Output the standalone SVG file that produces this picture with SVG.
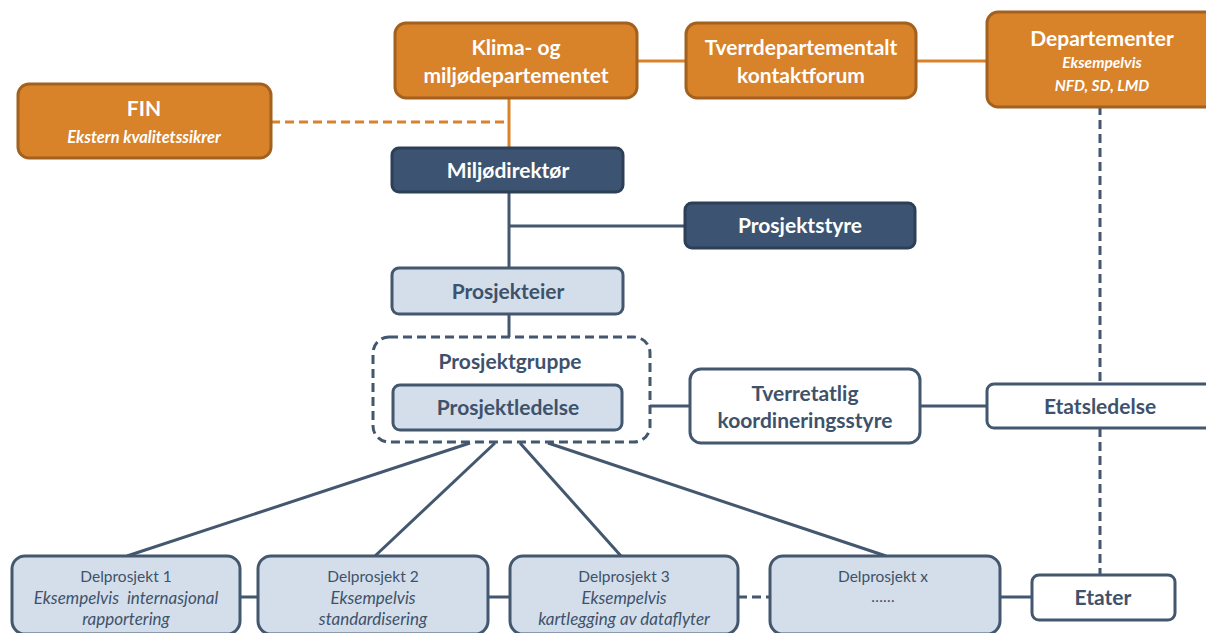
<svg xmlns="http://www.w3.org/2000/svg" width="1206" height="633" viewBox="0 0 1206 633">
  <style>
    text { font-family: Lato, "Open Sans", "Liberation Sans", sans-serif; text-anchor: middle; white-space: pre; }
    .org { fill: #D8822A; stroke: #A2611F; stroke-width: 3; }
    .navy { fill: #3C5471; stroke: #2C3F56; stroke-width: 3; }
    .light { fill: #D3DEEA; stroke: #43576E; stroke-width: 3; }
    .white { fill: #FFFFFF; stroke: #43576E; stroke-width: 3; }
    .tw { fill: #FFFFFF; font-weight: bold; font-size: 21px; }
    .twi { fill: #FFFFFF; font-style: italic; font-size: 16.5px; font-weight: bold; }
    .twis { fill: #FFFFFF; font-style: italic; font-size: 15.5px; font-weight: bold; }
    .tn { fill: #3E526B; font-weight: bold; font-size: 21px; }
    .ts { fill: #3E526B; font-size: 15.5px; }
    .tsi { fill: #3E526B; font-size: 17px; font-style: italic; }
    .lo { stroke: #D8822A; stroke-width: 3; fill: none; }
    .ln { stroke: #43576E; stroke-width: 3; fill: none; }
    .dash { stroke-dasharray: 9 5; }
  </style>
  <rect width="1206" height="633" fill="#FFFFFF"/>

  <!-- connectors -->
  <g id="connectors">
    <line class="lo" x1="637" y1="61" x2="686" y2="61"/>
    <line class="lo" x1="916" y1="61" x2="987" y2="61"/>
    <line class="lo" x1="509" y1="98" x2="509" y2="148"/>
    <line class="lo dash" x1="271" y1="122" x2="509" y2="122"/>
    <line class="ln" x1="509" y1="192" x2="509" y2="268"/>
    <line class="ln" x1="509" y1="226" x2="685" y2="226"/>
    <line class="ln" x1="509" y1="314" x2="509" y2="337"/>
    <line class="ln" x1="650" y1="406" x2="690" y2="406"/>
    <line class="ln" x1="920" y1="406" x2="987" y2="406"/>
    <line class="ln dash" x1="1100" y1="106" x2="1100" y2="384"/>
    <line class="ln dash" x1="1100" y1="428" x2="1100" y2="575"/>
    <line class="ln" x1="470" y1="443" x2="127" y2="556"/>
    <line class="ln" x1="495" y1="443" x2="375" y2="556"/>
    <line class="ln" x1="520" y1="443" x2="621" y2="556"/>
    <line class="ln" x1="548" y1="443" x2="886" y2="556"/>
    <line class="ln" x1="240" y1="597" x2="258" y2="597"/>
    <line class="ln" x1="488" y1="597" x2="510" y2="597"/>
    <line class="ln dash" x1="738" y1="597" x2="770" y2="597"/>
    <line class="ln" x1="1000" y1="597" x2="1032" y2="597"/>
  </g>

  <g id="klima">
    <rect class="org" x="395" y="23" width="242" height="75" rx="11"/>
    <text class="tw" x="516" y="55">Klima- og</text>
    <text class="tw" x="516" y="83">miljødepartementet</text>
  </g>
  <g id="tverrdep">
    <rect class="org" x="686" y="23" width="230" height="75" rx="11"/>
    <text class="tw" x="801" y="55">Tverrdepartementalt</text>
    <text class="tw" x="801" y="83">kontaktforum</text>
  </g>
  <g id="departementer">
    <rect class="org" x="987" y="12" width="230" height="95" rx="11"/>
    <text class="tw" x="1102" y="46">Departementer</text>
    <text class="twis" x="1102" y="68">Eksempelvis</text>
    <text class="twis" x="1102" y="91">NFD, SD, LMD</text>
  </g>
  <g id="fin">
    <rect class="org" x="18" y="84" width="253" height="74" rx="11"/>
    <text class="tw" x="144" y="116">FIN</text>
    <text class="twi" x="144" y="143">Ekstern kvalitetssikrer</text>
  </g>
  <g id="miljodirektor">
    <rect class="navy" x="392" y="148" width="231" height="44" rx="7"/>
    <text class="tw" x="508" y="178">Miljødirektør</text>
  </g>
  <g id="prosjektstyre">
    <rect class="navy" x="685" y="203" width="230" height="45" rx="7"/>
    <text class="tw" x="800" y="233">Prosjektstyre</text>
  </g>
  <g id="prosjekteier">
    <rect class="light" x="392" y="268" width="231" height="46" rx="7"/>
    <text class="tn" x="508" y="299">Prosjekteier</text>
  </g>
  <g id="prosjektgruppe">
    <rect x="373" y="337" width="277" height="105" rx="16" fill="none" stroke="#43576E" stroke-width="3" stroke-dasharray="9 5"/>
    <text class="tn" x="510" y="369">Prosjektgruppe</text>
  </g>
  <g id="prosjektledelse">
    <rect class="light" x="393" y="385" width="229" height="45" rx="7"/>
    <text class="tn" x="508" y="415">Prosjektledelse</text>
  </g>
  <g id="tverretatlig">
    <rect class="white" x="690" y="369" width="230" height="74" rx="11"/>
    <text class="tn" x="805" y="401">Tverretatlig</text>
    <text class="tn" x="805" y="428">koordineringsstyre</text>
  </g>
  <g id="etatsledelse">
    <rect class="white" x="987" y="384" width="230" height="44" rx="7"/>
    <text class="tn" x="1100" y="414">Etatsledelse</text>
  </g>
  <g id="etater">
    <rect class="white" x="1032" y="575" width="143" height="45" rx="7"/>
    <text class="tn" x="1103" y="605">Etater</text>
  </g>
  <g id="delprosjekt1">
    <rect class="light" x="12" y="556" width="228" height="78" rx="13"/>
    <text class="ts" x="126" y="582">Delprosjekt 1</text>
    <text class="tsi" x="126" y="604">Eksempelvis  internasjonal</text>
    <text class="tsi" x="126" y="625">rapportering</text>
  </g>
  <g id="delprosjekt2">
    <rect class="light" x="258" y="556" width="230" height="78" rx="13"/>
    <text class="ts" x="373" y="582">Delprosjekt 2</text>
    <text class="tsi" x="373" y="604">Eksempelvis</text>
    <text class="tsi" x="373" y="625">standardisering</text>
  </g>
  <g id="delprosjekt3">
    <rect class="light" x="510" y="556" width="228" height="78" rx="13"/>
    <text class="ts" x="624" y="582">Delprosjekt 3</text>
    <text class="tsi" x="624" y="604">Eksempelvis</text>
    <text class="tsi" x="624" y="625">kartlegging av dataflyter</text>
  </g>
  <g id="delprosjektx">
    <rect class="light" x="770" y="556" width="230" height="78" rx="13"/>
    <text class="ts" x="883" y="582">Delprosjekt x</text>
    <text class="ts" x="883" y="602">……</text>
  </g>
</svg>
